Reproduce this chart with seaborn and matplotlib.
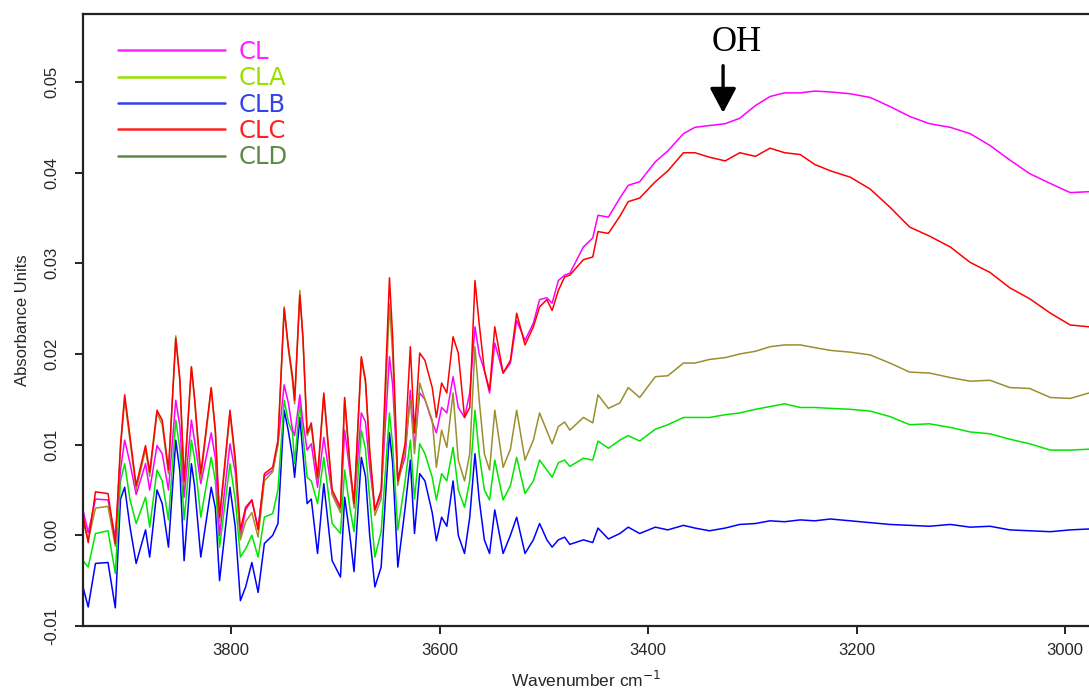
import pandas as pd
import matplotlib
matplotlib.use("Agg")
import matplotlib.pyplot as plt
from matplotlib.lines import Line2D
import seaborn as sns

sns.set_style("ticks")
plt.rcParams['font.family'] = ['Liberation Sans', 'DejaVu Sans']

# wavenumber grid (cm-1)
wavenumber = [3942, 3937, 3930, 3918, 3911, 3906, 3902, 3897, 3891, 3882,
              3878, 3871, 3866, 3860, 3853, 3849, 3845, 3838, 3835, 3829,
              3819, 3815, 3811, 3801, 3796, 3791, 3786, 3780, 3774, 3768,
              3760, 3755, 3749, 3745, 3741, 3739, 3734, 3731, 3727, 3723,
              3717, 3711, 3703, 3695, 3691, 3686, 3682, 3675, 3671, 3667,
              3662, 3656, 3648, 3645, 3640, 3633, 3628, 3624, 3619, 3614,
              3607, 3603, 3598, 3593, 3587, 3582, 3576, 3571, 3566, 3562,
              3557, 3552, 3547, 3539, 3532, 3526, 3518, 3510, 3504, 3497,
              3492, 3486, 3480, 3475,
              3462, 3453, 3448, 3438, 3427, 3419, 3408, 3393, 3381, 3366,
              3355, 3341, 3326, 3312, 3297, 3283, 3269, 3254, 3240, 3225,
              3206, 3187, 3168, 3149, 3130, 3110, 3091, 3072, 3053, 3034,
              3014, 2995, 2977]

cl = [0.0028, 0.0003, 0.0040, 0.0039, -0.0002, 0.0072, 0.0105, 0.0080, 0.0045, 0.0079,
      0.0050, 0.0099, 0.0090, 0.0050, 0.0149, 0.0120, 0.0042, 0.0127, 0.0105, 0.0057,
      0.0113, 0.0085, 0.0000, 0.0101, 0.0070, -0.0002, 0.0028, 0.0039, 0.0008, 0.0065,
      0.0072, 0.0100, 0.0166, 0.0146, 0.0116, 0.0110, 0.0155, 0.0125, 0.0094, 0.0101,
      0.0053, 0.0108, 0.0046, 0.0028, 0.0116, 0.0070, 0.0035, 0.0135, 0.0125, 0.0075,
      0.0028, 0.0045, 0.0197, 0.0166, 0.0060, 0.0086, 0.0160, 0.0097, 0.0157, 0.0150,
      0.0125, 0.0113, 0.0141, 0.0135, 0.0175, 0.0141, 0.0130, 0.0157, 0.0230, 0.0200,
      0.0182, 0.0157, 0.0212, 0.0179, 0.0190, 0.0237, 0.0215, 0.0234, 0.0260, 0.0262,
      0.0256, 0.0281, 0.0287, 0.0289,
      0.0318, 0.0328, 0.0353, 0.0351, 0.0372, 0.0386, 0.0390, 0.0412, 0.0424, 0.0443,
      0.0450, 0.0452, 0.0454, 0.0460, 0.0474, 0.0484, 0.0488, 0.0488, 0.0490, 0.0489,
      0.0487, 0.0483, 0.0473, 0.0462, 0.0454, 0.0450, 0.0443, 0.0430, 0.0414, 0.0399,
      0.0388, 0.0378, 0.0379]

cla = [-0.0028, -0.0035, 0.0002, 0.0005, -0.0042, 0.0060, 0.0079, 0.0040, 0.0013, 0.0042,
       0.0009, 0.0072, 0.0060, 0.0017, 0.0127, 0.0095, 0.0017, 0.0105, 0.0085, 0.0020,
       0.0086, 0.0060, -0.0013, 0.0079, 0.0040, -0.0024, -0.0015, 0.0000, -0.0024, 0.0020,
       0.0024, 0.0050, 0.0149, 0.0125, 0.0113, 0.0079, 0.0146, 0.0110, 0.0064, 0.0060,
       0.0035, 0.0086, 0.0013, 0.0002, 0.0072, 0.0030, 0.0004, 0.0116, 0.0095, 0.0040,
       -0.0024, 0.0004, 0.0135, 0.0100, 0.0006, 0.0060, 0.0105, 0.0040, 0.0101, 0.0090,
       0.0064, 0.0039, 0.0068, 0.0060, 0.0097, 0.0050, 0.0031, 0.0060, 0.0138, 0.0090,
       0.0050, 0.0039, 0.0083, 0.0039, 0.0055, 0.0086, 0.0046, 0.0060, 0.0083, 0.0072,
       0.0064, 0.0080, 0.0083, 0.0076,
       0.0085, 0.0083, 0.0104, 0.0096, 0.0105, 0.0110, 0.0104, 0.0117, 0.0122, 0.0130,
       0.0130, 0.0130, 0.0133, 0.0135, 0.0139, 0.0142, 0.0145, 0.0141, 0.0141, 0.0140,
       0.0139, 0.0137, 0.0131, 0.0122, 0.0123, 0.0119, 0.0114, 0.0112, 0.0106, 0.0101,
       0.0094, 0.0094, 0.0095]

clb = [-0.0057, -0.0079, -0.0031, -0.0030, -0.0080, 0.0040, 0.0053, 0.0010, -0.0031, 0.0006,
       -0.0024, 0.0050, 0.0035, -0.0013, 0.0105, 0.0070, -0.0028, 0.0079, 0.0055, -0.0024,
       0.0053, 0.0030, -0.0050, 0.0053, 0.0010, -0.0072, -0.0057, -0.0030, -0.0063, -0.0009,
       0.0000, 0.0013, 0.0138, 0.0115, 0.0086, 0.0064, 0.0130, 0.0090, 0.0035, 0.0040,
       -0.0020, 0.0057, -0.0028, -0.0046, 0.0042, 0.0000, -0.0040, 0.0086, 0.0065, 0.0000,
       -0.0057, -0.0035, 0.0113, 0.0080, -0.0035, 0.0030, 0.0083, 0.0002, 0.0068, 0.0060,
       0.0025, -0.0006, 0.0020, 0.0010, 0.0060, 0.0000, -0.0020, 0.0020, 0.0090, 0.0040,
       -0.0005, -0.0020, 0.0028, -0.0020, 0.0000, 0.0020, -0.0020, -0.0005, 0.0013, -0.0005,
       -0.0013, -0.0005, -0.0002, -0.0010,
       -0.0005, -0.0008, 0.0008, -0.0004, 0.0002, 0.0009, 0.0002, 0.0009, 0.0006, 0.0011,
       0.0008, 0.0005, 0.0008, 0.0012, 0.0013, 0.0016, 0.0015, 0.0017, 0.0016, 0.0018,
       0.0016, 0.0014, 0.0012, 0.0011, 0.0010, 0.0012, 0.0009, 0.0010, 0.0006, 0.0005,
       0.0004, 0.0006, 0.0007]

clc = [0.0022, -0.0008, 0.0048, 0.0046, -0.0009, 0.0100, 0.0155, 0.0110, 0.0055, 0.0099,
       0.0070, 0.0138, 0.0127, 0.0072, 0.0217, 0.0171, 0.0060, 0.0186, 0.0152, 0.0068,
       0.0163, 0.0116, 0.0020, 0.0138, 0.0086, 0.0006, 0.0031, 0.0039, 0.0006, 0.0068,
       0.0075, 0.0105, 0.0250, 0.0208, 0.0175, 0.0149, 0.0265, 0.0219, 0.0113, 0.0124,
       0.0064, 0.0157, 0.0050, 0.0031, 0.0152, 0.0079, 0.0035, 0.0197, 0.0171, 0.0094,
       0.0028, 0.0050, 0.0284, 0.0220, 0.0060, 0.0101, 0.0208, 0.0113, 0.0201, 0.0193,
       0.0163, 0.0130, 0.0168, 0.0157, 0.0219, 0.0201, 0.0130, 0.0141, 0.0281, 0.0234,
       0.0182, 0.0160, 0.0230, 0.0179, 0.0193, 0.0245, 0.0210, 0.0230, 0.0252, 0.0260,
       0.0248, 0.0270, 0.0285, 0.0287,
       0.0304, 0.0307, 0.0335, 0.0333, 0.0352, 0.0368, 0.0372, 0.0390, 0.0402, 0.0422,
       0.0422, 0.0417, 0.0413, 0.0422, 0.0418, 0.0427, 0.0422, 0.0420, 0.0409, 0.0402,
       0.0395, 0.0382, 0.0362, 0.0340, 0.0330, 0.0318, 0.0301, 0.0290, 0.0273, 0.0261,
       0.0245, 0.0232, 0.0230]

cld = [0.0015, -0.0005, 0.0030, 0.0032, -0.0012, 0.0095, 0.0150, 0.0105, 0.0050, 0.0095,
       0.0065, 0.0135, 0.0122, 0.0068, 0.0220, 0.0170, 0.0055, 0.0185, 0.0150, 0.0062,
       0.0162, 0.0112, 0.0015, 0.0135, 0.0080, -0.0005, 0.0015, 0.0025, -0.0002, 0.0060,
       0.0070, 0.0100, 0.0252, 0.0205, 0.0170, 0.0145, 0.0270, 0.0215, 0.0110, 0.0120,
       0.0060, 0.0155, 0.0045, 0.0025, 0.0150, 0.0075, 0.0030, 0.0195, 0.0168, 0.0090,
       0.0022, 0.0040, 0.0255, 0.0200, 0.0055, 0.0095, 0.0150, 0.0090, 0.0168, 0.0150,
       0.0127, 0.0075, 0.0116, 0.0097, 0.0157, 0.0083, 0.0060, 0.0090, 0.0208, 0.0150,
       0.0090, 0.0072, 0.0138, 0.0075, 0.0095, 0.0138, 0.0083, 0.0105, 0.0135, 0.0115,
       0.0101, 0.0120, 0.0125, 0.0116,
       0.0130, 0.0124, 0.0155, 0.0140, 0.0146, 0.0163, 0.0152, 0.0175, 0.0176, 0.0190,
       0.0190, 0.0194, 0.0196, 0.0200, 0.0203, 0.0208, 0.0210, 0.0210, 0.0207, 0.0204,
       0.0202, 0.0199, 0.0190, 0.0180, 0.0179, 0.0174, 0.0170, 0.0171, 0.0163, 0.0162,
       0.0152, 0.0151, 0.0157]

samples = ['CL', 'CLA', 'CLB', 'CLC', 'CLD']
series = {'CL': cl, 'CLA': cla, 'CLB': clb, 'CLC': clc, 'CLD': cld}

# line colours in the plot / colours used in the legend box
line_colors = {'CL': '#ff00ff', 'CLA': '#00e600', 'CLB': '#0000ff',
               'CLC': '#ff0000', 'CLD': '#9a8f2e'}
legend_colors = {'CL': '#ff22ff', 'CLA': '#99e000', 'CLB': '#3344e6',
                 'CLC': '#ff2222', 'CLD': '#5a8a44'}

xticks = [3800, 3600, 3400, 3200, 3000]
yticks = [-0.01, 0.00, 0.01, 0.02, 0.03, 0.04, 0.05]
ytick_labels = ['-0.01', '0.00', '0.01', '0.02', '0.03', '0.04', '0.05']

rows = []
for s in samples:
    for w, v in zip(wavenumber, series[s]):
        rows.append({'wavenumber': w, 'absorbance': v, 'sample': s})
df = pd.DataFrame(rows)

fig = plt.figure(figsize=(10.89, 6.93), dpi=100)
ax = fig.add_axes([0.0762, 0.0967, 0.9238, 0.8831])

draw_order = ['CLB', 'CLA', 'CL', 'CLD', 'CLC']
sns.lineplot(data=df, x='wavenumber', y='absorbance', hue='sample',
             hue_order=draw_order, palette=line_colors, estimator=None,
             sort=False, legend=False, linewidth=1.1, ax=ax)

ax.set_xlim(3942, 2977)
ax.set_ylim(-0.0100, 0.0575)
ax.set_xticks(xticks)
ax.set_xticklabels([str(t) for t in xticks], fontsize=12)
ax.set_yticks(yticks)
ax.set_yticklabels(ytick_labels, fontsize=12, rotation=90, va='center')
ax.tick_params(axis='both', direction='out', length=6, width=1.2, color='black')
ax.tick_params(axis='x', pad=6)
ax.tick_params(axis='y', pad=11)

for side in ['left', 'bottom', 'top']:
    ax.spines[side].set_linewidth(1.6)
    ax.spines[side].set_color('#222222')
ax.spines['right'].set_visible(False)

ax.set_xlabel('Wavenumber cm$^{-1}$', fontsize=12.5, labelpad=9)
ax.set_ylabel('Absorbance Units', fontsize=12, labelpad=10)

# legend
handles = [Line2D([], [], color=legend_colors[s], linewidth=1.8) for s in samples]
leg = ax.legend(handles, samples, loc='upper left', bbox_to_anchor=(0.035, 0.958),
                frameon=False, handlelength=4.4, handletextpad=0.55,
                labelspacing=0.1, borderpad=0, borderaxespad=0,
                labelcolor=[legend_colors[s] for s in samples],
                prop={'family': 'DejaVu Sans', 'size': 17.5})

# OH band marker
ax.text(3315, 0.0544, 'OH', fontsize=25, family='Liberation Serif',
        ha='center', va='center', color='black')
ax.annotate('', xy=(3328, 0.0466), xytext=(3328, 0.0518),
            arrowprops=dict(arrowstyle='-|>,head_width=0.8,head_length=1.5',
                            lw=2.4, color='black', shrinkA=0, shrinkB=0))

fig.savefig('out.png', dpi=100, facecolor='white')
